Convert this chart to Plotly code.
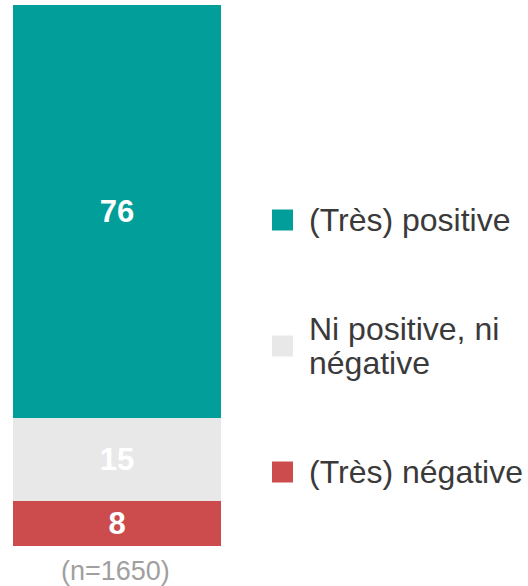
import plotly.graph_objects as go

categories = ["(Très) positive", "Ni positive, ni<br>négative", "(Très) négative"]
values = [76.4, 15.3, 8.3]
labels = ["76", "15", "8"]
colors = ["#029E9A", "#E8E8E8", "#CC4B4C"]
sample_note = "(n=1650)"

W, H = 528, 586
fig = go.Figure()

for name, val, lab, col in reversed(list(zip(categories, values, labels, colors))):
    fig.add_trace(go.Bar(
        x=["all"], y=[val], name=name, marker=dict(color=col, line=dict(width=0)),
        text=[lab], textposition="inside", insidetextanchor="middle",
        textfont=dict(color="white", size=31, family="Liberation Sans", weight="bold"),
        width=1, showlegend=False, hoverinfo="skip",
    ))

def px_x(p):
    return p / W

def px_y(p):
    return 1 - p / H

legend_y = [220, 346, 472]
line_gap = 34
shapes = []
annotations = []
for name, col, yc in zip(categories, colors, legend_y):
    shapes.append(dict(type="rect", xref="paper", yref="paper",
                       x0=px_x(272), x1=px_x(293), y0=px_y(yc + 10.5), y1=px_y(yc - 10.5),
                       fillcolor=col, line=dict(width=0)))
    lines = name.split("<br>")
    start = yc - line_gap * (len(lines) - 1) / 2
    for i, ln in enumerate(lines):
        annotations.append(dict(text=ln, xref="paper", yref="paper", x=px_x(307),
                                y=px_y(start + i * line_gap),
                                xanchor="left", yanchor="middle", showarrow=False, align="left",
                                font=dict(size=32, color="#3A3A3A", family="Liberation Sans")))

annotations.append(dict(text=sample_note, xref="paper", yref="paper", x=px_x(115), y=px_y(571),
                        xanchor="center", yanchor="middle", showarrow=False,
                        font=dict(size=27, color="#A0A0A0", family="Liberation Sans")))

fig.update_layout(
    width=W, height=H, barmode="stack",
    margin=dict(l=0, r=0, t=0, b=0),
    paper_bgcolor="white", plot_bgcolor="white",
    xaxis=dict(domain=[px_x(13), px_x(221)], visible=False, range=[-0.5, 0.5]),
    yaxis=dict(domain=[px_y(546), px_y(5)], visible=False, range=[0, 100]),
    shapes=shapes, annotations=annotations, showlegend=False,
)

fig.write_html("out.html", config={"displayModeBar": False},
               post_script="document.body.style.margin='0';document.body.style.overflow='hidden';")
